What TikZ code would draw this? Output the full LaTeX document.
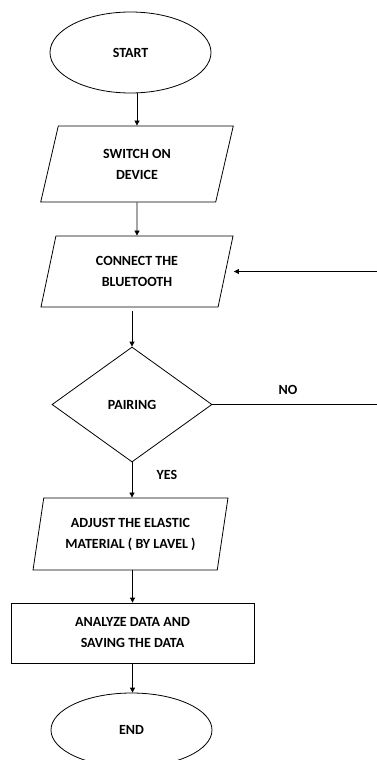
\documentclass[tikz,border=0pt]{standalone}
\usepackage{fontspec}
\setmainfont{Carlito}
\usetikzlibrary{arrows.meta,shapes.geometric}

\begin{document}
\begin{tikzpicture}[>={Triangle[length=5pt,width=5pt]},x=1pt,y=-1pt,line width=0.8pt,
    every node/.style={font=\bfseries\fontsize{14}{21}\selectfont,align=center,inner sep=0pt},
    term/.style={draw,ellipse,minimum width=161pt,minimum height=81pt},
    io/.style={draw,trapezium,trapezium left angle=76,trapezium right angle=104,
        trapezium stretches=true,minimum width=194pt,minimum height=76pt},
    test/.style={draw,diamond,minimum width=160pt,minimum height=115pt},
    proc/.style={draw,rectangle,minimum width=243pt,minimum height=60pt}]
\useasboundingbox (0,0) rectangle (376,760);
\node[term] (start) at (130.5,52.5) {START};
\node[io] (switch) at (137,164) {SWITCH ON\\DEVICE};
\node[io,minimum height=71pt] (connect) at (137,271.5) {CONNECT THE\\BLUETOOTH};
\node[test] (pairing) at (132,404.5) {PAIRING};
\node[io,minimum width=195pt,minimum height=72pt] (adjust) at (130.5,534) {ADJUST THE ELASTIC\\MATERIAL ( BY LAVEL )};
\node[proc] (analyze) at (132.5,633) {ANALYZE DATA AND\\SAVING THE DATA};
\node[term,minimum height=74pt] (end) at (131.5,730) {END};
\coordinate (rim) at (378,0);
\draw[->](switch.north |- start.south)--(switch.north);
\draw[->](switch.south)--(connect.north);
\draw[->,shorten <=4pt](pairing.north |- connect.south)--(pairing.north);
\draw[->](pairing.south)--(pairing.south |- adjust.north);
\draw[->](analyze.north |- adjust.south)--(analyze.north);
\draw[->](analyze.south)--(analyze.south |- end.north);
% no: back to the bluetooth step
\draw[->,shorten >=8pt](pairing.east)--(pairing.east -| rim)--(rim |- connect.east)--(connect.east);
\node (no) at (288,390) {NO};
\node (yes) at (167,475) {YES};
\end{tikzpicture}
\end{document}
